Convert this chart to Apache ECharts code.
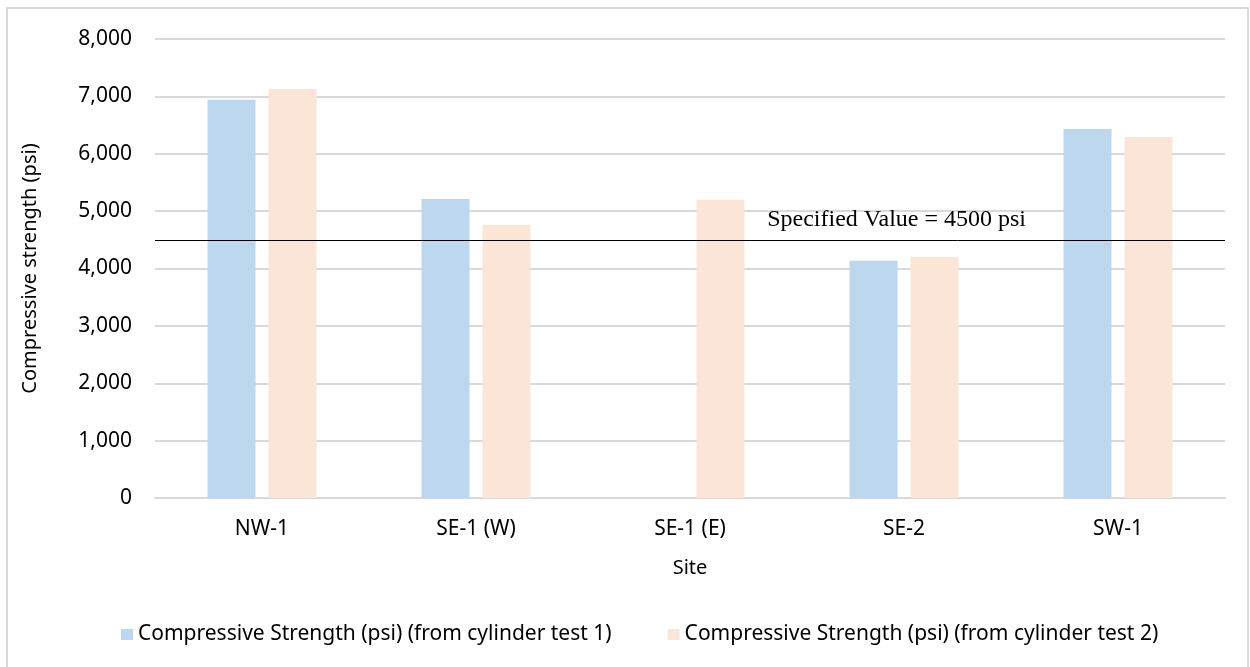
<!DOCTYPE html>
<html>
<head>
<meta charset="utf-8">
<script src="https://cdn.jsdelivr.net/npm/echarts@6/dist/echarts.min.js"></script>
<style>
  html, body { margin: 0; padding: 0; background: #fff; }
  #chart { width: 1250px; height: 667px; }
</style>
</head>
<body>
<div id="chart"></div>
<script>
// Sites and cylinder test results (psi)
const sites = ['NW-1', 'SE-1 (W)', 'SE-1 (E)', 'SE-2', 'SW-1'];
const test1 = [6940, 5210, null, 4135, 6430];
const test2 = [7130, 4760, 5200, 4200, 6290];
const seriesNames = [
  'Compressive Strength (psi) (from cylinder test 1)',
  'Compressive Strength (psi) (from cylinder test 2)'
];
const specifiedValue = 4500;
const specifiedLabel = 'Specified Value = 4500 psi';

const font = '"Noto Sans", "Open Sans", sans-serif';
const chart = echarts.init(document.getElementById('chart'), null, { renderer: 'canvas' });

chart.setOption({
  animation: false,
  backgroundColor: '#fff',
  graphic: [{
    type: 'rect',
    shape: { x: 7, y: 8, width: 1241, height: 680 },
    style: { fill: 'none', stroke: '#D9D9D9', lineWidth: 2 },
    silent: true,
    z: -1
  }],
  grid: { left: 155, right: 25, top: 39, bottom: 169 },
  legend: {
    bottom: 17,
    left: 116,
    itemWidth: 12,
    itemHeight: 11,
    itemGap: 56,
    icon: 'rect',
    textStyle: { fontFamily: font, fontSize: 21, color: '#000' },
    data: seriesNames
  },
  xAxis: {
    type: 'category',
    data: sites,
    name: 'Site',
    nameLocation: 'middle',
    nameGap: 60,
    nameTextStyle: { fontFamily: font, fontSize: 20, color: '#000' },
    axisLine: { lineStyle: { color: '#D9D9D9', width: 2 } },
    axisTick: { show: false },
    axisLabel: { fontFamily: font, fontSize: 21, color: '#000', margin: 21 }
  },
  yAxis: {
    type: 'value',
    min: 0,
    max: 8000,
    interval: 1000,
    name: 'Compressive strength (psi)',
    nameLocation: 'middle',
    nameGap: 115,
    nameTextStyle: { fontFamily: font, fontSize: 20, color: '#000' },
    axisLine: { show: false },
    axisTick: { show: false },
    axisLabel: {
      fontFamily: font, fontSize: 21, color: '#000', margin: 23,
      formatter: v => v.toLocaleString('en-US')
    },
    splitLine: { lineStyle: { color: '#D9D9D9', width: 2 } }
  },
  series: [
    {
      name: seriesNames[0],
      type: 'bar',
      data: test1,
      barWidth: 48,
      barGap: '27%',
      itemStyle: { color: '#BDD7EE' },
      markLine: {
        silent: true,
        symbol: 'none',
        lineStyle: { color: '#000', width: 1, type: 'solid' },
        label: {
          show: true,
          position: 'insideEndTop',
          formatter: specifiedLabel,
          fontFamily: '"Liberation Serif", "Times New Roman", serif',
          fontSize: 24,
          color: '#000',
          offset: [-194, -3]
        },
        data: [{ yAxis: specifiedValue }]
      }
    },
    {
      name: seriesNames[1],
      type: 'bar',
      data: test2,
      barWidth: 48,
      barGap: '27%',
      itemStyle: { color: '#FBE5D6' }
    }
  ]
});
</script>
</body>
</html>
